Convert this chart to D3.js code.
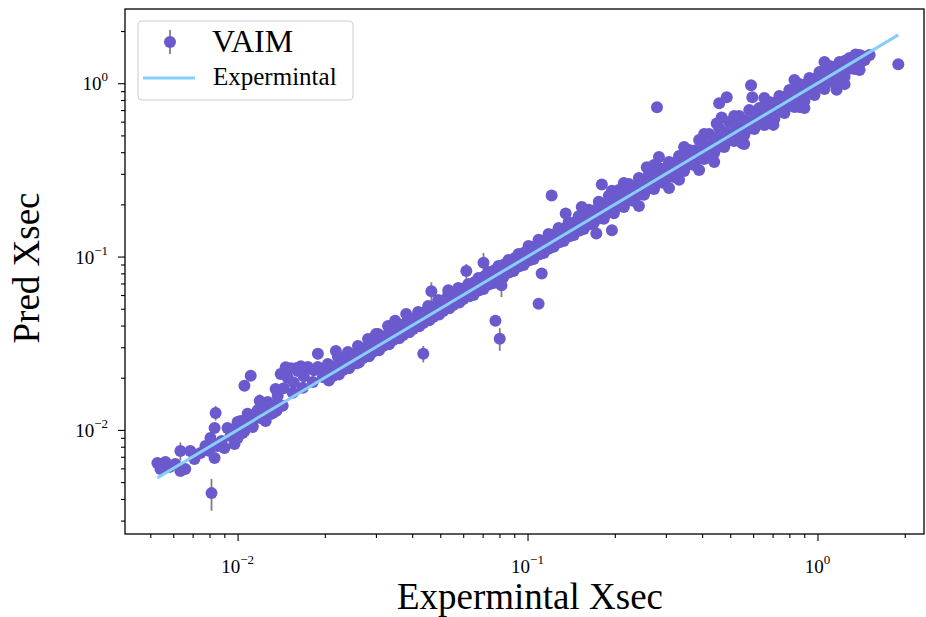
<!DOCTYPE html>
<html>
<head>
<meta charset="utf-8">
<script src="https://cdn.jsdelivr.net/npm/d3@7"></script>
<style>
  body { margin: 0; background: #fff; }
  svg { display: block; }
  text { font-family: "Liberation Serif", "Times New Roman", serif; fill: #000; }
</style>
</head>
<body>
<svg id="chart" width="926" height="617"></svg>
<script>
// [experimental xsec, predicted xsec, prediction error]
const lowTail = [
  [0.00529,0.00644,0.0004],[0.00546,0.00628,0],[0.00564,0.00653,0],[0.00542,0.00595,0],
  [0.00582,0.00611,0],[0.00610,0.00636,0],[0.00635,0.00756,0.0009],[0.00635,0.00579,0],
  [0.00660,0.00595,0],[0.00687,0.00756,0],[0.00710,0.00680,0],[0.00745,0.00736,0],
  [0.00775,0.00808,0],[0.00800,0.00756,0],[0.00806,0.00899,0],[0.00833,0.01027,0],
  [0.00833,0.00689,0],[0.00853,0.00808,0],[0.00881,0.00864,0],[0.00901,0.00787,0],
  [0.00923,0.01027,0],[0.00945,0.00923,0],[0.00976,0.00830,0],[0.01000,0.00899,0],
  [0.01024,0.01127,0],[0.01056,0.00987,0],[0.01083,0.01173,0],[0.01127,0.01055,0],
  [0.01146,0.01237,0],[0.01202,0.01173,0],[0.01250,0.01127,0],[0.01301,0.01237,0],
  [0.01362,0.01288,0]
];

const bandPoints = [
  [0.01000,0.0111,0],[0.01041,0.0096,0],[0.01083,0.0124,0],[0.01127,0.0104,0],[0.01173,0.0130,0],
  [0.01221,0.0116,0],[0.01270,0.0145,0],[0.01322,0.0125,0],[0.01375,0.0157,0],[0.01431,0.0138,0],
  [0.01489,0.0200,0],[0.01550,0.0164,0],[0.01613,0.0219,0],[0.01679,0.0175,0],[0.01747,0.0231,0],
  [0.01818,0.0189,0],[0.01892,0.0231,0],[0.01969,0.0202,0],
  [0.01408,0.0210,0.0012],[0.01465,0.0230,0],[0.01525,0.0227,0.0015],[0.01587,0.0227,0],
  [0.01652,0.0233,0],[0.01353,0.0172,0],[0.01892,0.0275,0.002],[0.02183,0.0285,0.0015],
  [0.02048,0.0240,0],[0.02131,0.0205,0],[0.02218,0.0264,0],[0.02309,0.0222,0],[0.02402,0.0282,0],
  [0.02500,0.0240,0],[0.02602,0.0305,0],[0.02708,0.0260,0],[0.02818,0.0335,0],[0.02933,0.0282,0],
  [0.03051,0.0358,0],[0.03175,0.0305,0],[0.03304,0.0398,0],[0.03439,0.0330,0],
  [0.03493,0.0427,0],[0.03815,0.0466,0],[0.0300,0.0357,0.0025],[0.02602,0.0244,0.002],
  [0.03579,0.0409,0],[0.03725,0.0353,0],[0.03875,0.0443,0],[0.04033,0.0382,0],[0.04197,0.0479,0],
  [0.04368,0.0414,0],[0.04545,0.0519,0],[0.04730,0.0448,0],[0.04920,0.0562,0],[0.05121,0.0485,0],
  [0.05330,0.0609,0],[0.05547,0.0526,0],[0.0577,0.0659,0],[0.0601,0.0570,0],
  [0.0466,0.063,0.008],[0.0533,0.0640,0.004],
  [0.0625,0.0695,0],[0.0651,0.0601,0],[0.0677,0.0753,0],[0.0705,0.0651,0],[0.0733,0.0815,0],
  [0.0763,0.0704,0],[0.0794,0.0883,0],[0.0826,0.0762,0],[0.0860,0.0956,0],[0.0895,0.0826,0],
  [0.0931,0.1035,0],[0.0969,0.0894,0],
  [0.0705,0.092,0.013],[0.0615,0.0825,0.008],[0.0813,0.0684,0.01],
  [0.1008,0.115,0],[0.1049,0.0968,0],[0.1092,0.125,0],[0.1137,0.105,0],[0.1182,0.135,0],
  [0.1231,0.114,0],[0.1280,0.146,0],[0.1332,0.123,0],[0.1386,0.158,0],[0.1443,0.133,0],
  [0.1501,0.171,0],[0.1563,0.144,0],[0.1626,0.186,0],[0.1692,0.156,0],
  [0.1354,0.177,0],[0.1538,0.193,0],[0.1954,0.240,0],
  [0.1761,0.207,0],[0.1833,0.165,0],[0.1907,0.224,0],[0.1985,0.178,0],[0.2065,0.242,0],
  [0.2149,0.193,0],[0.2237,0.262,0],[0.2328,0.209,0],[0.2422,0.284,0],[0.2521,0.227,0],
  [0.2578,0.328,0],[0.2840,0.375,0],
  [0.2623,0.300,0],[0.2730,0.245,0],[0.2840,0.324,0],[0.2956,0.266,0],[0.3076,0.351,0],
  [0.3202,0.288,0],[0.3331,0.380,0],[0.3467,0.312,0],[0.3607,0.412,0],[0.3754,0.337,0],
  [0.3906,0.471,0],[0.4066,0.366,0],[0.4230,0.510,0],[0.4403,0.396,0],[0.4581,0.552,0],
  [0.4768,0.429,0],[0.4961,0.598,0],[0.5164,0.464,0],[0.5372,0.647,0],[0.5591,0.503,0],
  [0.5817,0.701,0],[0.6055,0.544,0],
  [0.4492,0.586,0],[0.4671,0.634,0],[0.5960,0.831,0],
  [0.6300,0.719,0],[0.6557,0.574,0],[0.6822,0.779,0],[0.7101,0.621,0],[0.7388,0.844,0],
  [0.7690,0.673,0],[0.8000,0.914,0],[0.8327,0.729,0],[0.8663,0.989,0],[0.9017,0.789,0],
  [0.9382,1.071,0],[0.9765,0.854,0],[1.016,1.160,0],[1.057,0.925,0],[1.100,1.256,0],
  [1.145,1.002,0],[1.191,1.324,0],[1.240,1.085,0],[1.290,1.397,0],[1.343,1.207,0],
  [1.397,1.454,0],[1.454,1.36,0],[1.513,1.454,0]
];

// points lying close to the diagonal
const nearDiagonal = [
  [0.02082,0.0217,0],[0.02254,0.0235,0],[0.02441,0.0254,0],[0.02644,0.0275,0],[0.02864,0.0298,0],
  [0.03101,0.0323,0],[0.03359,0.0350,0],[0.03637,0.0379,0],[0.03939,0.0410,0],[0.04266,0.0444,0],
  [0.04620,0.0481,0],[0.05003,0.0521,0],[0.05418,0.0564,0],[0.0587,0.0611,0],[0.0636,0.0662,0],
  [0.0688,0.0716,0],[0.0745,0.0776,0],[0.0807,0.0840,0],[0.0874,0.0910,0],[0.0947,0.0986,0],
  [0.1025,0.1067,0],[0.1110,0.1156,0],[0.1202,0.1251,0],[0.1302,0.1355,0],[0.1410,0.1468,0],
  [0.1527,0.1590,0],[0.1654,0.1722,0],[0.1789,0.181,0],[0.1938,0.196,0],[0.2098,0.212,0],
  [0.2273,0.230,0],[0.2461,0.249,0],[0.2666,0.270,0],[0.2886,0.292,0],[0.3125,0.316,0],
  [0.3385,0.342,0],[0.3666,0.371,0],[0.3969,0.402,0],[0.4299,0.435,0],[0.4655,0.471,0],
  [0.5042,0.510,0],[0.5460,0.552,0],[0.5912,0.598,0],[0.6403,0.648,0],[0.6934,0.701,0],
  [0.7508,0.760,0],[0.8131,0.822,0],[0.8806,0.891,0],[0.9536,0.965,0],[1.033,1.045,0],
  [1.118,1.131,0],[1.211,1.225,0],[1.311,1.327,0],[1.420,1.437,0]
];

// slightly over-predicted points
const overPredicted = [
  [0.00969,0.0101,0],[0.01049,0.0109,0],[0.01136,0.0118,0],[0.01230,0.0128,0],[0.01332,0.0139,0],
  [0.01442,0.0174,0],[0.01562,0.0188,0],[0.01692,0.0204,0],[0.01833,0.0221,0],[0.01984,0.0215,0],
  [0.02148,0.0233,0],[0.02327,0.0252,0],[0.02520,0.0273,0],[0.02730,0.0296,0],[0.02955,0.0320,0],
  [0.03200,0.0347,0],[0.03467,0.0375,0],[0.03753,0.0406,0],[0.04065,0.0440,0],[0.04402,0.0477,0],
  [0.04766,0.0516,0],[0.05163,0.0559,0],[0.05589,0.0605,0],[0.06054,0.0656,0],[0.06558,0.0710,0],
  [0.0710,0.0769,0],[0.0769,0.0833,0],[0.0833,0.0902,0],[0.0902,0.0977,0],[0.0976,0.1057,0],
  [0.1058,0.1146,0],[0.1145,0.1240,0],[0.1240,0.1343,0],[0.1343,0.1454,0],[0.1454,0.1575,0],
  [0.1575,0.1706,0],[0.1706,0.1848,0],[0.1847,0.2000,0],[0.2000,0.2166,0],[0.2167,0.2347,0],
  [0.2346,0.2541,0],[0.2541,0.2752,0],[0.2751,0.2979,0],[0.2979,0.3226,0],[0.3226,0.3494,0],
  [0.3494,0.3784,0],[0.3783,0.4097,0],[0.4097,0.4437,0],[0.4437,0.4805,0],[0.4805,0.5204,0],
  [0.5203,0.5635,0],[0.5634,0.6102,0],[0.6102,0.6608,0],[0.6608,0.7156,0],[0.7156,0.7750,0],
  [0.7749,0.8392,0],[0.8391,0.9087,0],[0.9088,0.9842,0],[0.9841,1.066,0],[1.0655,1.154,0],
  [1.1536,1.249,0],[1.2495,1.353,0],[1.3532,1.466,0],
  [0.2149,0.266,0],[0.2730,0.338,0],[0.3467,0.429,0],[0.4066,0.510,0],[0.5164,0.648,0],
  [0.6557,0.822,0],[0.8327,1.044,0],[1.057,1.325,0]
];

// slightly under-predicted points
const underPredicted = [
  [0.02064,0.0193,0],[0.02236,0.0209,0],[0.02421,0.0227,0],[0.02623,0.0246,0],[0.02841,0.0266,0],
  [0.03075,0.0288,0],[0.03330,0.0312,0],[0.03608,0.0338,0],[0.03906,0.0366,0],[0.04231,0.0396,0],
  [0.04581,0.0429,0],[0.04959,0.0464,0],[0.05373,0.0503,0],[0.05816,0.0544,0],[0.0630,0.0590,0],
  [0.0682,0.0639,0],[0.0739,0.0692,0],[0.0800,0.0749,0],[0.0867,0.0811,0],[0.0938,0.0878,0],
  [0.1016,0.0951,0],[0.1101,0.1030,0],[0.1191,0.1115,0],[0.1290,0.1208,0],[0.1397,0.1308,0],
  [0.1513,0.1416,0],[0.1639,0.1534,0],[0.1775,0.1661,0],[0.1922,0.1799,0],[0.2082,0.1949,0],
  [0.2255,0.2110,0],[0.2441,0.2285,0],[0.2644,0.2475,0],[0.2863,0.2680,0],[0.3101,0.2902,0],
  [0.3358,0.3143,0],[0.3636,0.3403,0],[0.3937,0.3685,0],[0.4264,0.3991,0],[0.4618,0.4322,0],
  [0.5001,0.4681,0],[0.5415,0.5068,0],[0.5864,0.5489,0],[0.6350,0.5944,0],[0.6877,0.6437,0],
  [0.7447,0.6970,0],[0.8064,0.7548,0],[0.8732,0.8173,0],[0.9457,0.8852,0],[1.024,0.958,0],
  [1.109,1.038,0],[1.201,1.124,0],[1.300,1.217,0],[1.408,1.318,0],
  [0.2422,0.196,0],[0.3076,0.249,0],[0.3906,0.316,0],[0.4403,0.351,0],[0.5591,0.446,0],
  [0.9017,0.719,0],[1.240,0.988,0],[1.397,1.19,0]
];

const outliers = [
  [0.00813,0.00432,0.0009],[0.00840,0.01254,0.0012],[0.01056,0.01796,0],[0.01110,0.02051,0],
  [0.01192,0.01471,0.0013],[0.0437,0.0275,0.003],[0.0775,0.0427,0],[0.0802,0.0336,0.005],
  [0.1119,0.0798,0],[0.1092,0.0535,0],[0.1211,0.2254,0],[0.1804,0.2607,0],[0.1954,0.142,0],
  [0.1727,0.136,0],[0.3331,0.277,0],[0.2795,0.727,0],[0.4864,0.830,0],[0.4581,0.766,0],
  [0.5503,0.451,0],[0.5900,0.974,0],[0.7046,0.575,0],[0.8663,0.729,0],[1.164,0.916,0],
  [1.90,1.288,0]
];

const xMajorTicks = [0.01, 0.1, 1];
const xMajorExponents = ["\u22122", "\u22121", "0"];
const xMinorTicks = [0.005,0.006,0.007,0.008,0.009,0.02,0.03,0.04,0.05,0.06,0.07,0.08,0.09,
                     0.2,0.3,0.4,0.5,0.6,0.7,0.8,0.9,2];
const yMajorTicks = [0.01, 0.1, 1];
const yMajorExponents = ["\u22122", "\u22121", "0"];
const yMinorTicks = [0.003,0.004,0.005,0.006,0.007,0.008,0.009,0.02,0.03,0.04,0.05,0.06,0.07,0.08,0.09,
                     0.2,0.3,0.4,0.5,0.6,0.7,0.8,0.9,2];
const seriesNames = ["VAIM", "Expermintal"];
const xTitle = "Expermintal Xsec";
const yTitle = "Pred Xsec";

const COLORS = { point: "#6a5acd", err: "#808080", line: "#87cefa" };
const plot = { left: 125, right: 924, top: 9, bottom: 534 };

const svg = d3.select("#chart");
const x = d3.scaleLog().domain([0.00409, 2.33]).range([plot.left, plot.right]);
const y = d3.scaleLog().domain([0.00251, 2.68]).range([plot.bottom, plot.top]);

const allPoints = lowTail.concat(bandPoints, nearDiagonal, overPredicted, underPredicted, outliers);

// error bars
svg.append("g").selectAll("line")
  .data(allPoints.filter(d => d[2] > 0))
  .join("line")
  .attr("x1", d => x(d[0])).attr("x2", d => x(d[0]))
  .attr("y1", d => y(d[1] - d[2])).attr("y2", d => y(d[1] + d[2]))
  .attr("stroke", COLORS.err).attr("stroke-width", 1.8);

// markers
svg.append("g").selectAll("circle")
  .data(allPoints)
  .join("circle")
  .attr("cx", d => x(d[0])).attr("cy", d => y(d[1]))
  .attr("r", 6).attr("fill", COLORS.point);

// experimental reference line y = x over the measured range
const expRange = d3.extent(allPoints, d => d[0]);
svg.append("path")
  .datum(expRange)
  .attr("d", d3.line().x(d => x(d)).y(d => y(d)))
  .attr("stroke", COLORS.line).attr("stroke-width", 3).attr("fill", "none");

// axes ticks
function tickAxis(axis, values, size) {
  return axis.tickValues(values).tickSize(size).tickFormat("");
}
const gx = svg.append("g").attr("transform", `translate(0,${plot.bottom})`);
gx.append("g").call(tickAxis(d3.axisBottom(x), xMajorTicks, 7));
gx.append("g").call(tickAxis(d3.axisBottom(x), xMinorTicks, 4));
const gy = svg.append("g").attr("transform", `translate(${plot.left},0)`);
gy.append("g").call(tickAxis(d3.axisLeft(y), yMajorTicks, 7));
gy.append("g").call(tickAxis(d3.axisLeft(y), yMinorTicks, 4));
svg.selectAll(".domain").remove();
svg.selectAll(".tick line").attr("stroke", "#000").attr("stroke-width", 1.1);

// tick labels as powers of ten
function powerLabel(sel, exps) {
  sel.append("tspan").text("10");
  sel.append("tspan").attr("dy", -9).attr("font-size", 13).text((d, i) => exps[i]);
}
svg.append("g").selectAll("text")
  .data(xMajorTicks).join("text")
  .attr("x", d => x(d)).attr("y", 573)
  .attr("text-anchor", "middle").attr("font-size", 19)
  .call(powerLabel, xMajorExponents);
svg.append("g").selectAll("text")
  .data(yMajorTicks).join("text")
  .attr("x", 108).attr("y", d => y(d) + 7)
  .attr("text-anchor", "end").attr("font-size", 19)
  .call(powerLabel, yMajorExponents);

// frame
svg.append("rect")
  .attr("x", plot.left).attr("y", plot.top)
  .attr("width", plot.right - plot.left).attr("height", plot.bottom - plot.top)
  .attr("fill", "none").attr("stroke", "#000").attr("stroke-width", 1.3);

// axis titles
svg.append("text").attr("x", 530).attr("y", 609)
  .attr("text-anchor", "middle").attr("font-size", 37).text(xTitle);
svg.append("text").attr("transform", "translate(39,268) rotate(-90)")
  .attr("text-anchor", "middle").attr("font-size", 37).text(yTitle);

// legend
const lg = svg.append("g");
lg.append("rect").attr("x", 138).attr("y", 21).attr("width", 215).attr("height", 79)
  .attr("rx", 4).attr("fill", "#fff").attr("fill-opacity", 0.8)
  .attr("stroke", "#cccccc").attr("stroke-width", 1);
lg.append("line").attr("x1", 170).attr("x2", 170).attr("y1", 30).attr("y2", 54)
  .attr("stroke", COLORS.err).attr("stroke-width", 1.8);
lg.append("circle").attr("cx", 170).attr("cy", 42).attr("r", 6).attr("fill", COLORS.point);
lg.append("text").attr("x", 212).attr("y", 52).attr("font-size", 32).text(seriesNames[0]);
lg.append("line").attr("x1", 143).attr("x2", 195).attr("y1", 78).attr("y2", 78)
  .attr("stroke", COLORS.line).attr("stroke-width", 3);
lg.append("text").attr("x", 213).attr("y", 85).attr("font-size", 25).text(seriesNames[1]);
</script>
</body>
</html>
